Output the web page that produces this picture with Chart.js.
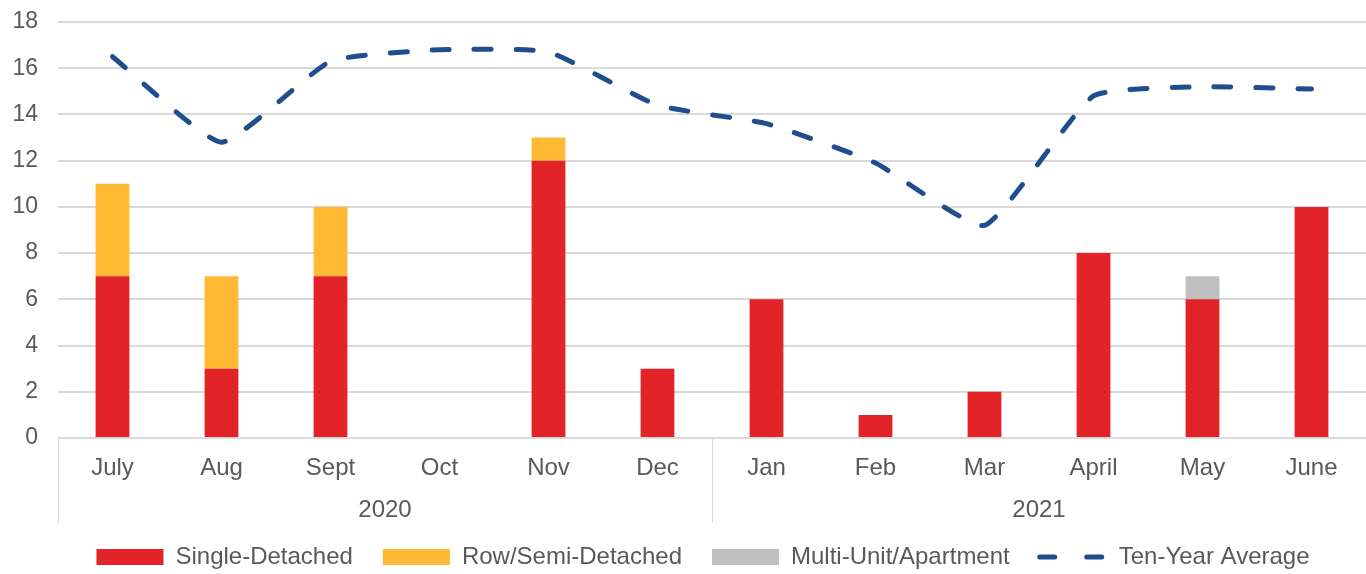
<!DOCTYPE html>
<html>
<head>
<meta charset="utf-8">
<script src="https://cdn.jsdelivr.net/npm/chart.js@4"></script>
<style>
  html, body { margin: 0; padding: 0; background: #fff; }
  #wrap { width: 1366px; height: 574px; }
</style>
</head>
<body>
<div id="wrap"><canvas id="housing"></canvas></div>
<script>
const months = ['July', 'Aug', 'Sept', 'Oct', 'Nov', 'Dec', 'Jan', 'Feb', 'Mar', 'April', 'May', 'June'];
const years = ['2020', '2021'];
const yearSpans = [6, 6];

const singleDetached = [7, 3, 7, 0, 12, 3, 6, 1, 2, 8, 6, 10];
const rowSemi = [4, 4, 3, 0, 1, 0, 0, 0, 0, 0, 0, 0];
const multiUnit = [0, 0, 0, 0, 0, 0, 0, 0, 0, 0, 1, 0];
const tenYearAvg = [16.5, 12.8, 16.3, 16.8, 16.7, 14.4, 13.6, 11.9, 9.2, 14.8, 15.2, 15.1];

const textColor = '#595959';
const gridColor = '#d9d9d9';
const lineColor = '#1f4e8f';
const fontFamily = '"Liberation Sans", Arial, sans-serif';

// draws the second row of the x axis (years) plus the group separators
const yearAxis = {
  id: 'yearAxis',
  afterLayout(chart) {
    // legend sits a little right of centre in the original
    chart.legend.left += 20;
    chart.legend.right += 20;
  },
  afterDraw(chart) {
    const { ctx, scales: { x } } = chart;
    const step = x.getPixelForValue(1) - x.getPixelForValue(0);
    const top = x.top;
    const bottom = x.top + 85;
    ctx.save();
    ctx.strokeStyle = gridColor;
    ctx.lineWidth = 1;
    ctx.fillStyle = textColor;
    ctx.font = '24px ' + fontFamily;
    ctx.textAlign = 'center';
    ctx.textBaseline = 'middle';
    let start = 0;
    years.forEach((yr, i) => {
      const left = x.getPixelForValue(start) - step / 2;
      const right = x.getPixelForValue(start + yearSpans[i] - 1) + step / 2;
      ctx.beginPath();
      ctx.moveTo(Math.round(left) + 0.5, top);
      ctx.lineTo(Math.round(left) + 0.5, bottom);
      ctx.stroke();
      ctx.fillText(yr, (left + right) / 2, top + 72);
      start += yearSpans[i];
    });
    ctx.restore();
  }
};

new Chart(document.getElementById('housing'), {
  data: {
    labels: months,
    datasets: [
      { type: 'bar', label: 'Single-Detached', data: singleDetached, backgroundColor: '#e22328', borderWidth: 0, pointStyle: 'rect', stack: 's' },
      { type: 'bar', label: 'Row/Semi-Detached', data: rowSemi, backgroundColor: '#ffb935', borderWidth: 0, pointStyle: 'rect', stack: 's' },
      { type: 'bar', label: 'Multi-Unit/Apartment', data: multiUnit, backgroundColor: '#bfbfbf', borderWidth: 0, pointStyle: 'rect', stack: 's' },
      { type: 'line', label: 'Ten-Year Average', data: tenYearAvg, borderColor: lineColor, backgroundColor: lineColor,
        borderWidth: 5, borderDash: [17, 25], borderCapStyle: 'round', tension: 0.15, pointRadius: 0, pointStyle: 'line', fill: false }
    ]
  },
  options: {
    responsive: true,
    maintainAspectRatio: false,
    animation: false,
    layout: { padding: { top: 0, right: 0, bottom: -5, left: 0 } },
    datasets: { bar: { categoryPercentage: 1, barPercentage: 0.31 } },
    plugins: {
      tooltip: { enabled: false },
      legend: {
        position: 'bottom',
        labels: {
          color: textColor,
          font: { family: fontFamily, size: 24 },
          usePointStyle: true,
          pointStyleWidth: 67,
          boxWidth: 67,
          boxHeight: 16,
          padding: 30,
          generateLabels: (chart) => Chart.defaults.plugins.legend.labels.generateLabels(chart).map((item) => {
            if (item.datasetIndex === 3) {
              item.lineWidth = 5;
              item.lineDash = [15, 32];
              item.lineCap = 'round';
              item.strokeStyle = lineColor;
            }
            return item;
          })
        }
      }
    },
    scales: {
      x: {
        stacked: true,
        grid: { display: false },
        border: { color: gridColor },
        ticks: { color: textColor, font: { family: fontFamily, size: 24 }, padding: 8, maxRotation: 0 },
        afterFit: (s) => { s.height = 77; }
      },
      y: {
        stacked: true,
        min: 0,
        max: 18,
        border: { display: false },
        grid: { color: gridColor, lineWidth: 2, drawTicks: false },
        ticks: { stepSize: 2, color: textColor, font: { family: fontFamily, size: 23 }, padding: 20 },
        afterFit: (s) => { s.width = 58; s.paddingTop = 22; s.paddingBottom = 0; }
      }
    }
  },
  plugins: [yearAxis]
});
</script>
</body>
</html>
